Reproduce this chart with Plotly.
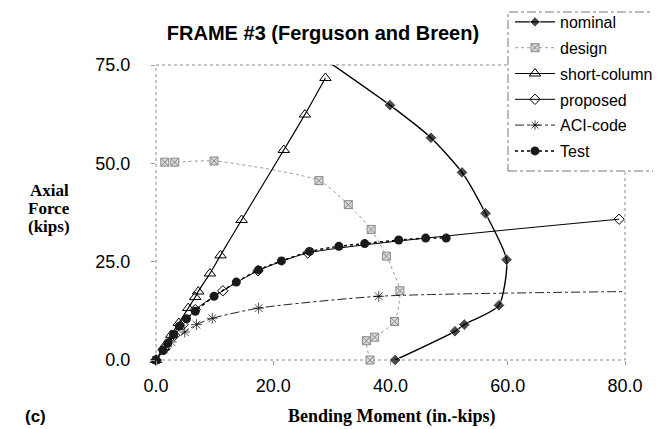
import plotly.graph_objects as go

# ---- data ----
nominal_x = [27.3, 39.9, 46.9, 52.2, 56.2, 59.8, 58.5, 52.6, 51.0, 40.8]
nominal_y = [78.0, 64.8, 56.5, 47.7, 37.3, 25.5, 13.9, 9.0, 7.3, 0.0]

design_x = [1.5, 3.2, 9.9, 27.8, 32.8, 36.7, 39.3, 41.6, 40.7, 37.3, 35.9, 36.5]
design_y = [50.3, 50.3, 50.6, 45.6, 39.5, 33.2, 26.4, 17.6, 9.8, 5.8, 4.9, 0.0]

short_x = [0.0, 1.3, 2.6, 3.9, 5.5, 6.7, 7.2, 9.2, 11.0, 14.6, 21.8, 25.4, 28.9]
short_y = [0.0, 3.2, 6.4, 9.4, 13.2, 16.0, 17.4, 22.0, 26.6, 35.6, 53.4, 62.4, 71.7]

proposed_x = [0.0, 1.5, 3.2, 4.6, 6.7, 11.4, 17.4, 25.9, 79.0]
proposed_y = [0.0, 2.9, 6.3, 9.0, 12.8, 17.6, 22.7, 27.2, 35.8]

aci_x = [0.0, 1.4, 2.6, 4.9, 6.9, 9.6, 17.5, 38.0, 80.0]
aci_y = [0.0, 2.6, 4.6, 7.1, 9.0, 10.6, 13.2, 16.2, 17.4]

test_x = [0.0, 1.2, 2.0, 3.0, 4.0, 5.2, 6.7, 9.9, 13.7, 17.5, 21.4, 26.2, 31.2, 35.6, 41.4, 46.0, 49.5]
test_y = [0.0, 2.4, 4.3, 6.5, 8.6, 10.5, 12.4, 16.2, 19.8, 22.9, 25.2, 27.6, 28.9, 29.6, 30.5, 31.0, 31.0]

x_ticks = [0, 20, 40, 60, 80]
y_ticks = [0, 25, 50, 75]

W, H = 661, 429
L, R, T, B = 148, 44, 57, 77
pw, ph = W - L - R, H - T - B


def px_x(p):
    return (p - L) / pw


def px_y(p):
    return (H - B - p) / ph


fig = go.Figure()

fig.add_trace(go.Scatter(
    x=nominal_x, y=nominal_y, name="nominal", mode="lines+markers",
    line=dict(color="black", width=1.4, shape="spline", smoothing=0.6),
    marker=dict(symbol="diamond", color="black", size=[0] + [9] * (len(nominal_x) - 1)),
    legendgroup="a", cliponaxis=False))

fig.add_trace(go.Scatter(
    x=design_x, y=design_y, name="design", mode="lines+markers",
    line=dict(color="#9a9a9a", width=1, dash="dot", shape="spline", smoothing=0.6),
    marker=dict(symbol="square-x", color="#d8d8d8", size=8,
                line=dict(color="#8a8a8a", width=1)),
    legendgroup="b", cliponaxis=False))

fig.add_trace(go.Scatter(
    x=short_x, y=short_y, name="short-column", mode="lines+markers",
    line=dict(color="black", width=1.2, shape="spline", smoothing=0.6),
    marker=dict(symbol="triangle-up-open", color="black", size=10,
                line=dict(color="black", width=1)),
    legendgroup="c", cliponaxis=False))

fig.add_trace(go.Scatter(
    x=proposed_x, y=proposed_y, name="proposed", mode="lines+markers",
    line=dict(color="black", width=1, shape="spline", smoothing=0.6),
    marker=dict(symbol="diamond-open", color="black", size=8,
                line=dict(color="black", width=1)),
    legendgroup="d", cliponaxis=False))

fig.add_trace(go.Scatter(
    x=aci_x, y=aci_y, name="ACI-code", mode="lines+markers",
    line=dict(color="#222222", width=1, dash="dashdot", shape="spline", smoothing=0.6),
    marker=dict(symbol="asterisk-open", color="black",
                size=[9] * (len(aci_x) - 1) + [0],
                line=dict(color="black", width=1)),
    legendgroup="e", cliponaxis=False))

fig.add_trace(go.Scatter(
    x=test_x, y=test_y, name="Test", mode="lines+markers",
    line=dict(color="black", width=1.5, dash="dot", shape="spline", smoothing=0.6),
    marker=dict(symbol="circle", color="#1a1a1a", size=9),
    legendgroup="f", cliponaxis=False))

axis_font = dict(family="Liberation Sans, Arial, sans-serif", size=18, color="black")

fig.update_xaxes(range=[0, 80], tickvals=x_ticks, tickformat=".1f",
                 showgrid=False, zeroline=False, showline=False,
                 ticks="outside", ticklen=4, tickcolor="#999999",
                 tickfont=axis_font, ticklabelstandoff=5)
fig.update_yaxes(range=[0, 75], tickvals=y_ticks, tickformat=".1f",
                 showgrid=False, zeroline=False, showline=False,
                 ticks="outside", ticklen=4, tickcolor="#999999",
                 tickfont=axis_font, ticklabelstandoff=17)

shapes = [
    # plot-area border (dashed, Excel style)
    dict(type="rect", xref="paper", yref="paper", x0=0, x1=1, y0=0, y1=1,
         line=dict(color="#8a8a8a", width=1, dash="dot"), layer="below"),
    # legend box
    dict(type="rect", xref="paper", yref="paper",
         x0=px_x(500), x1=px_x(659.5), y0=px_y(163), y1=px_y(4),
         fillcolor="white", line=dict(color="#777777", width=1, dash="dashdot"),
         layer="above"),
]

serif = "Liberation Serif, Times New Roman, serif"
annotations = [
    dict(text="<b>Axial</b>", xref="paper", yref="paper", x=px_x(41), y=px_y(182),
         xanchor="center", yanchor="middle", showarrow=False,
         font=dict(family=serif, size=17, color="black")),
    dict(text="<b>Force</b>", xref="paper", yref="paper", x=px_x(41), y=px_y(200),
         xanchor="center", yanchor="middle", showarrow=False,
         font=dict(family=serif, size=17, color="black")),
    dict(text="<b>(kips)</b>", xref="paper", yref="paper", x=px_x(41), y=px_y(218),
         xanchor="center", yanchor="middle", showarrow=False,
         font=dict(family=serif, size=17, color="black")),
    dict(text="<b>Bending Moment (in.-kips)</b>", xref="paper", yref="paper",
         x=px_x(384), y=px_y(408), xanchor="center", yanchor="middle", showarrow=False,
         font=dict(family=serif, size=18, color="black")),
    dict(text="<b>(c)</b>", xref="paper", yref="paper",
         x=px_x(27), y=px_y(408), xanchor="center", yanchor="middle", showarrow=False,
         font=dict(family="Liberation Sans, Arial, sans-serif", size=17, color="black")),
]

fig.update_layout(
    width=W, height=H,
    margin=dict(l=L, r=R, t=T, b=B, pad=0, autoexpand=False),
    paper_bgcolor="white", plot_bgcolor="white",
    title=dict(text="<b>FRAME #3 (Ferguson and Breen)</b>",
               x=315 / W, xanchor="center", xref="container",
               y=1 - 25 / H, yanchor="middle",
               font=dict(family="Liberation Sans, Arial, sans-serif", size=20, color="black")),
    showlegend=True,
    legend=dict(x=px_x(502), y=px_y(-3), xanchor="left", yanchor="top",
                bgcolor="rgba(0,0,0,0)", borderwidth=0,
                font=dict(family="Liberation Sans, Arial, sans-serif", size=16, color="black"),
                tracegroupgap=2, itemwidth=40),
    shapes=shapes, annotations=annotations,
)

fig.write_html("out.html")
